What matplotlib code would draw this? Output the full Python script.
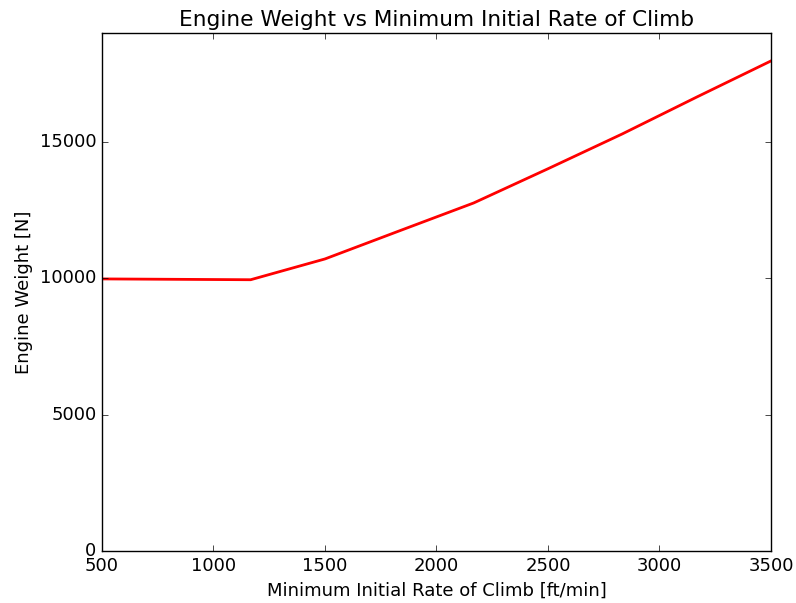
import numpy as np
import matplotlib
matplotlib.use("Agg")
import matplotlib.pyplot as plt

plt.style.use("classic")
plt.rcParams["font.size"] = 13

# rate of climb sweep [ft/min] and resulting engine weight [N]
roc = [500, 833, 1167, 1500, 1833, 2167, 2500, 2833, 3167, 3500]
engine_weight = [9980, 9965, 9950, 10712, 11740, 12766, 14020, 15297, 16650, 17975]

fig = plt.figure(figsize=(7.96, 6.03), dpi=100)
ax = fig.add_axes([0.128, 0.0862, 0.8406, 0.8591])
ax.plot(roc, engine_weight, color="red", linewidth=2)
ax.set_xlim(500, 3500)
ax.set_ylim(0, 19000)
ax.set_yticks([0, 5000, 10000, 15000])
ax.set_title("Engine Weight vs Minimum Initial Rate of Climb")
ax.set_xlabel("Minimum Initial Rate of Climb [ft/min]")
ax.set_ylabel("Engine Weight [N]")
fig.savefig("out.png", dpi=100)
